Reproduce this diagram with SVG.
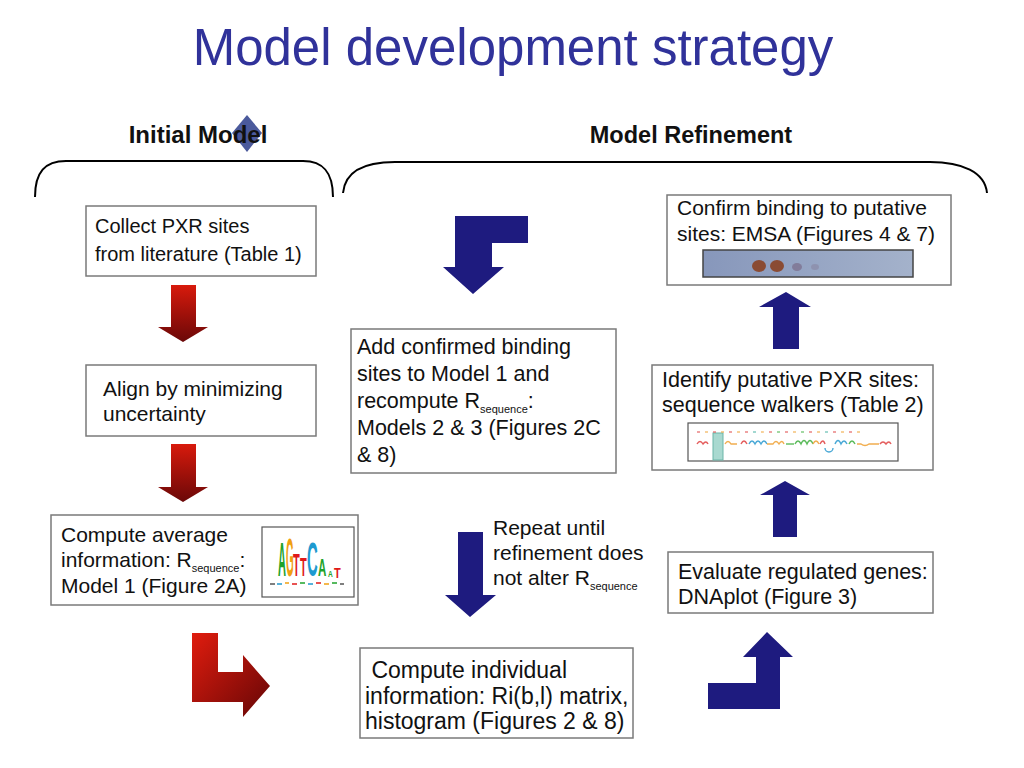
<svg xmlns="http://www.w3.org/2000/svg" width="1024" height="768" viewBox="0 0 1024 768">
<defs>
<style>
.t{font-family:"Liberation Sans",Arial,sans-serif;fill:#111}
.hd{font-family:"Liberation Sans",Arial,sans-serif;font-weight:bold;fill:#111;text-anchor:middle}
.box{fill:#fff;stroke:#7a7a7a;stroke-width:1.5}
.brace{fill:none;stroke:#000;stroke-width:2}
.blue{fill:#1E1B7F}
.sub{font-size:11px}
.lg{font-family:"Liberation Sans",Arial,sans-serif;font-weight:bold}
</style>
<linearGradient id="redV" x1="0" y1="0" x2="0" y2="1">
<stop offset="0" stop-color="#d81a0c"/>
<stop offset="1" stop-color="#6a0808"/>
</linearGradient>
<linearGradient id="redL" x1="0" y1="0" x2="1" y2="1">
<stop offset="0" stop-color="#e01c0e"/>
<stop offset="1" stop-color="#650606"/>
</linearGradient>
<linearGradient id="gel" x1="0" y1="0" x2="1" y2="0">
<stop offset="0" stop-color="#8797bb"/>
<stop offset="1" stop-color="#a4b2cb"/>
</linearGradient>
</defs>
<rect width="1024" height="768" fill="#fff"/>
<text x="513" y="65" text-anchor="middle" font-family="Liberation Sans, Arial, sans-serif" font-size="51" fill="#30329A">Model development strategy</text>

<g id="header-initial">
<polygon points="247,115 262,133 247,152 232,133" fill="#4B5A9C"/>
<text class="hd" x="198" y="143" font-size="24">Initial Model</text>
<path class="brace" d="M35,197 C35,172 45,161 66,161 L303,161 C323,161 333,172 333,197"/>
</g>
<g id="header-refinement">
<text class="hd" x="691" y="143" font-size="23.5">Model Refinement</text>
<path class="brace" d="M343,193 C345,172 362,162 395,162 L930,162 C962,162 985,172 987,193"/>
</g>

<g id="n1">
<rect class="box" x="86" y="206" width="230" height="70"/>
<text class="t" font-size="20" x="95" y="233">Collect PXR sites</text>
<text class="t" font-size="20" x="95" y="261">from literature (Table 1)</text>
</g>
<g id="n2">
<rect class="box" x="86" y="365" width="230" height="71"/>
<text class="t" font-size="21" x="103" y="396">Align by minimizing</text>
<text class="t" font-size="21" x="103" y="421">uncertainty</text>
</g>
<g id="n3">
<rect class="box" x="51" y="515" width="307" height="90"/>
<text class="t" font-size="21" x="61" y="542">Compute average</text>
<text class="t" font-size="21" x="61" y="567">information: R<tspan class="sub" dy="5">sequence</tspan><tspan dy="-5">:</tspan></text>
<text class="t" font-size="21" x="61" y="593">Model 1 (Figure 2A)</text>
<g id="logo">
<rect x="262" y="527" width="92" height="70" fill="#fff" stroke="#555" stroke-width="1.2"/>
<text class="lg" font-size="11" fill="#1ea32a" transform="translate(278,576) scale(1.0,4.4)">A</text>
<text class="lg" font-size="11" fill="#f0a010" transform="translate(286,576) scale(0.9,4.9)">G</text>
<text class="lg" font-size="11" fill="#e01818" transform="translate(293,576) scale(1.0,2.9)">T</text>
<text class="lg" font-size="11" fill="#e01818" transform="translate(300,576) scale(1.0,2.3)">T</text>
<text class="lg" font-size="11" fill="#1e9ad0" transform="translate(307,576) scale(1.35,4.4)">C</text>
<text class="lg" font-size="11" fill="#1ea32a" transform="translate(318,576) scale(1.05,2.2)">A</text>
<text class="lg" font-size="11" fill="#1ea32a" transform="translate(328,577) scale(0.6,0.8)">A</text>
<text class="lg" font-size="11" fill="#e01818" transform="translate(334,578) scale(1.0,1.3)">T</text>
<g stroke-width="1.5">
<line x1="270" y1="584" x2="275" y2="584" stroke="#555"/>
<line x1="277" y1="584" x2="282" y2="584" stroke="#1e9ad0"/>
<line x1="285" y1="583" x2="289" y2="583" stroke="#f0a010"/>
<line x1="292" y1="584" x2="297" y2="584" stroke="#e01818"/>
<line x1="300" y1="583" x2="305" y2="583" stroke="#1ea32a"/>
<line x1="308" y1="584" x2="313" y2="584" stroke="#1e9ad0"/>
<line x1="316" y1="583" x2="321" y2="583" stroke="#e01818"/>
<line x1="324" y1="584" x2="329" y2="584" stroke="#f0a010"/>
<line x1="332" y1="583" x2="337" y2="583" stroke="#1ea32a"/>
<line x1="340" y1="584" x2="344" y2="584" stroke="#555"/>
</g>
</g>
</g>
<g id="n4">
<rect class="box" x="351" y="329" width="265" height="144"/>
<text class="t" font-size="21.5" x="357" y="354">Add confirmed binding</text>
<text class="t" font-size="21.5" x="357" y="381">sites to Model 1 and</text>
<text class="t" font-size="21.5" x="357" y="408">recompute R<tspan class="sub" dy="5">sequence</tspan><tspan dy="-5">:</tspan></text>
<text class="t" font-size="21.5" x="357" y="435">Models 2 &amp; 3 (Figures 2C</text>
<text class="t" font-size="21.5" x="357" y="462">&amp; 8)</text>
</g>
<g id="n5">
<rect class="box" x="360" y="648" width="273" height="90"/>
<text class="t" font-size="23" x="365" y="678" xml:space="preserve"> Compute individual</text>
<text class="t" font-size="23" x="365" y="704">information: Ri(b,l) matrix,</text>
<text class="t" font-size="23" x="365" y="729">histogram (Figures 2 &amp; 8)</text>
</g>
<g id="n6">
<rect class="box" x="667" y="195" width="284" height="90"/>
<text class="t" font-size="21" x="677" y="215">Confirm binding to putative</text>
<text class="t" font-size="21" x="677" y="241">sites: EMSA (Figures 4 &amp; 7)</text>
<g id="gel-img">
<rect x="703" y="250" width="210" height="27" fill="url(#gel)" stroke="#444" stroke-width="1.5"/>
<ellipse cx="759" cy="266" rx="7" ry="6" fill="#8a4b33"/>
<ellipse cx="777" cy="266" rx="7" ry="6" fill="#8a4b33"/>
<ellipse cx="797" cy="267" rx="5" ry="4" fill="#7d7290" opacity="0.8"/>
<ellipse cx="815" cy="267" rx="4" ry="3" fill="#8a8aa6" opacity="0.7"/>
</g>
</g>
<g id="n7">
<rect class="box" x="652" y="365" width="281" height="105"/>
<text class="t" font-size="21.5" x="662" y="387">Identify putative PXR sites:</text>
<text class="t" font-size="21.5" x="662" y="412">sequence walkers (Table 2)</text>
<g id="walker-img">
<rect x="688" y="423" width="210" height="38" fill="#fff" stroke="#555" stroke-width="1.2"/>
<rect x="713" y="433" width="10" height="27" fill="#a9d9d0" stroke="#6bb5a8" stroke-width="1"/>
<g stroke-width="1.2" opacity="0.8">
<line x1="697" y1="432" x2="700" y2="432" stroke="#e04040"/>
<line x1="705" y1="432" x2="708" y2="432" stroke="#f0a030"/>
<line x1="713" y1="432" x2="716" y2="432" stroke="#e04040"/>
<line x1="721" y1="432" x2="724" y2="432" stroke="#f0a030"/>
<line x1="729" y1="432" x2="732" y2="432" stroke="#e04040"/>
<line x1="737" y1="432" x2="740" y2="432" stroke="#f0a030"/>
<line x1="745" y1="432" x2="748" y2="432" stroke="#e04040"/>
<line x1="753" y1="432" x2="756" y2="432" stroke="#40b0a0"/>
<line x1="761" y1="432" x2="764" y2="432" stroke="#f0a030"/>
<line x1="769" y1="432" x2="772" y2="432" stroke="#e04040"/>
<line x1="777" y1="432" x2="780" y2="432" stroke="#40b040"/>
<line x1="785" y1="432" x2="788" y2="432" stroke="#e04040"/>
<line x1="793" y1="432" x2="796" y2="432" stroke="#f0a030"/>
<line x1="801" y1="432" x2="804" y2="432" stroke="#40b040"/>
<line x1="809" y1="432" x2="812" y2="432" stroke="#e04040"/>
<line x1="817" y1="432" x2="820" y2="432" stroke="#f0a030"/>
<line x1="825" y1="432" x2="828" y2="432" stroke="#40b0a0"/>
<line x1="833" y1="432" x2="836" y2="432" stroke="#e04040"/>
<line x1="841" y1="432" x2="844" y2="432" stroke="#f0a030"/>
<line x1="849" y1="432" x2="852" y2="432" stroke="#e04040"/>
<line x1="857" y1="432" x2="860" y2="432" stroke="#f0a030"/>
</g>
<g fill="none" stroke-width="1.4" opacity="0.85">
<path d="M697,444 q3,-5 6,0 q3,-4 5,0" stroke="#e04040"/>
<path d="M725,444 q3,-5 6,0 h6" stroke="#f0a030"/>
<path d="M741,444 q3,-6 6,0" stroke="#e04040"/>
<path d="M749,444 q3,-6 6,0 q3,-6 6,0 q3,-6 6,0" stroke="#2a9ad0"/>
<path d="M767,444 h6 q3,-5 6,0 q3,-5 5,0" stroke="#f0a030"/>
<path d="M786,444 h8" stroke="#40b040"/>
<path d="M795,444 q3,-6 6,0 q3,-7 6,0 q3,-7 6,0" stroke="#40b040"/>
<path d="M813,444 q3,-6 6,0" stroke="#f0a030"/>
<path d="M820,444 q3,-6 5,0" stroke="#e04040"/>
<path d="M825,448 a4,4 0 1 0 8,0" stroke="#2a9ad0"/>
<path d="M835,444 q3,-7 6,0 q3,-6 6,0" stroke="#2a9ad0"/>
<path d="M849,444 q3,-6 6,0" stroke="#40b040"/>
<path d="M857,444 h4 q4,3 8,0 h10" stroke="#f0a030"/>
<path d="M880,444 q3,-4 6,0 q3,-4 5,0" stroke="#e04040"/>
</g>
</g>
</g>
<g id="n8">
<rect class="box" x="668" y="552" width="265" height="61"/>
<text class="t" font-size="21.5" x="678" y="579">Evaluate regulated genes:</text>
<text class="t" font-size="21.5" x="678" y="604">DNAplot (Figure 3)</text>
</g>
<g id="lbl-repeat">
<text class="t" font-size="21" x="493" y="535">Repeat until</text>
<text class="t" font-size="21" x="493" y="560">refinement does</text>
<text class="t" font-size="21" x="493" y="585">not alter R<tspan class="sub" dy="5">sequence</tspan></text>
</g>

<g id="connectors">
<path fill="url(#redV)" d="M171,285 H196 V327 H208 L183,342 L158,327 H171 Z"/>
<path fill="url(#redV)" d="M171,444 H196 V487 H208 L183,502 L158,487 H171 Z"/>
<path fill="url(#redL)" d="M192,633 H218 V672 H243 V655 L270,686 L243,717 V702 H192 Z"/>
<path class="blue" d="M455,216 H528 V243 H492 V267 H504 L473,294 L443,267 H455 Z"/>
<path class="blue" d="M458,532 H483 V595 H496 L470,617 L445,595 H458 Z"/>
<path class="blue" d="M786,292 L811,307 H799 V349 H773 V307 H759 Z"/>
<path class="blue" d="M785,481 L810,495 H797 V537 H773 V495 H760 Z"/>
<path class="blue" d="M767,632 L793,657 H780 V709 H708 V683 H756 V657 H743 Z"/>
</g>
</svg>
